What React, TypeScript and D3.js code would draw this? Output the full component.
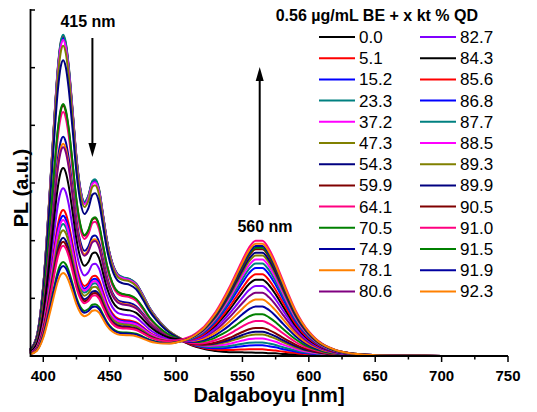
import * as d3 from "d3";

// wavelength grid (nm) and the two emission profiles
const wavelengths = [
  390, 395, 400, 405, 408, 411, 413, 415, 417, 419, 422, 425, 428, 431, 434, 437, 439, 442, 445, 448,
  452, 456, 460, 465, 470, 475, 480, 485, 490, 495, 500, 505, 510, 515, 520, 525, 530, 535, 540, 545,
  550, 555, 560, 565, 570, 575, 580, 585, 590, 595, 600, 605, 610, 615, 620, 630, 640, 650, 670, 700, 750,
];

// BE emission, normalised to its 415 nm peak
const beProfile = [
  0.02, 0.06, 0.22, 0.52, 0.72, 0.9, 0.975, 1.0, 0.975, 0.91, 0.77, 0.62, 0.52, 0.48, 0.5, 0.545, 0.55, 0.52, 0.44, 0.36,
  0.29, 0.255, 0.245, 0.24, 0.225, 0.19, 0.15, 0.12, 0.095, 0.075, 0.06, 0.047, 0.036, 0.028, 0.022, 0.017, 0.014, 0.011, 0.009, 0.008,
  0.007, 0.006, 0.005, 0.005, 0.004, 0.004, 0.003, 0.003, 0.003, 0.002, 0.002, 0.002, 0.002, 0.001, 0.001, 0.001, 0.001, 0.001, 0.0, 0.0, 0.0,
];

// QD emission, normalised to its 560 nm peak
const qdProfile = [
  0, 0, 0, 0, 0, 0, 0, 0, 0, 0, 0, 0, 0, 0, 0, 0, 0.001, 0.001, 0.002, 0.002,
  0.003, 0.004, 0.005, 0.007, 0.01, 0.014, 0.02, 0.028, 0.04, 0.055, 0.075, 0.1, 0.13, 0.17, 0.22, 0.29, 0.37, 0.47, 0.58, 0.7,
  0.82, 0.93, 0.99, 0.99, 0.92, 0.8, 0.66, 0.52, 0.39, 0.29, 0.21, 0.15, 0.105, 0.075, 0.052, 0.026, 0.013, 0.007, 0.003, 0.001, 0,
];

// samples: x kt % QD
const qdPercent = [
  "0.0", "5.1", "15.2", "23.3", "37.2", "47.3", "54.3", "59.9", "64.1", "70.5", "74.9", "78.1", "80.6",
  "82.7", "84.3", "85.6", "86.8", "87.7", "88.5", "89.3", "89.9", "90.5", "91.0", "91.5", "91.9", "92.3",
];

// peak intensities (a.u.) at 415 nm (BE) and 560 nm (QD)
const be415 = [
  5.53, 5.55, 5.51, 5.57, 5.48, 5.38, 5.13, 4.34, 4.23, 4.37, 3.8, 3.68, 3.62,
  2.91, 3.26, 2.53, 2.43, 2.29, 2.36, 2.18, 2.05, 1.98, 1.91, 1.63, 1.56, 1.44,
];
const qd560 = [
  0.03, 0.09, 0.16, 0.21, 0.28, 0.35, 0.4, 0.47, 0.59, 0.71, 0.85, 0.97, 1.09,
  1.21, 1.32, 1.42, 1.53, 1.61, 1.68, 1.75, 1.8, 1.86, 2.01, 1.89, 1.92, 1.96,
];

const xTicks = [400, 450, 500, 550, 600, 650, 700, 750];
const xMinorTicks = [425, 475, 525, 575, 625, 675, 725];
const yTicks = [0, 1, 2, 3, 4, 5, 6];

const palette = [
  "#000000", "#ff0000", "#0000ff", "#008080", "#ff00ff", "#808000", "#000080", "#800000", "#ff0080",
  "#008000", "#0000a0", "#ff8000", "#800080", "#8000ff", "#000000", "#ff0000", "#0000ff", "#008080",
  "#ff00ff", "#808000", "#000080", "#800000", "#ff0080", "#008000", "#0000a0", "#ff8000",
];

const W = 537;
const H = 412;
const font = "'Liberation Sans', Arial, sans-serif";

export default function App() {
  const x = d3.scaleLinear().domain([390, 750]).range([30, 508]);
  const y = d3.scaleLinear().domain([0, 6]).range([356, 10]);

  const line = d3
    .line<[number, number]>()
    .x((d) => x(d[0]))
    .y((d) => y(d[1]))
    .curve(d3.curveMonotoneX);

  const curves = qdPercent.map((_, i) =>
    wavelengths.map((w, k) => [w, be415[i] * beProfile[k] + qd560[i] * qdProfile[k]] as [number, number])
  );

  const legendX = [319, 420];
  const legendY0 = 37;
  const legendStep = 21.2;
  const half = Math.ceil(qdPercent.length / 2);

  // arrows
  const downX = x(437);
  const upX = x(563);

  return (
    <svg width={W} height={H} style={{ position: "absolute", left: 0, top: 0, background: "#fff" }}>
      <g>
        {curves.map((c, i) => (
          <path key={i} d={line(c) || ""} fill="none" stroke={palette[i]} strokeWidth={2} strokeLinejoin="round" />
        ))}
      </g>

      {/* axes */}
      <line x1={30} x2={508} y1={356} y2={356} stroke="#000" strokeWidth={1.8} />
      <line x1={30.5} x2={30.5} y1={9} y2={357} stroke="#000" strokeWidth={1.8} />
      {xTicks.map((t) => (
        <g key={t}>
          <line x1={x(t)} x2={x(t)} y1={356} y2={362} stroke="#000" strokeWidth={1.5} />
          <text x={x(t)} y={381} textAnchor="middle" fontFamily={font} fontWeight="bold" fontSize={15}>
            {t}
          </text>
        </g>
      ))}
      {xMinorTicks.map((t) => (
        <line key={t} x1={x(t)} x2={x(t)} y1={356} y2={359.5} stroke="#000" strokeWidth={1.5} />
      ))}
      {yTicks.map((t) => (
        <line key={t} x1={30} x2={35} y1={y(t)} y2={y(t)} stroke="#000" strokeWidth={1.5} />
      ))}

      <text x={269} y={402} textAnchor="middle" fontFamily={font} fontWeight="bold" fontSize={20}>
        Dalgaboyu [nm]
      </text>
      <text
        transform={`translate(28,188) rotate(-90)`}
        textAnchor="middle"
        fontFamily={font}
        fontWeight="bold"
        fontSize={20}
      >
        PL (a.u.)
      </text>

      {/* annotations */}
      <text x={88} y={27} textAnchor="middle" fontFamily={font} fontWeight="bold" fontSize={16}>
        415 nm
      </text>
      <line x1={downX} x2={downX} y1={38} y2={146} stroke="#000" strokeWidth={2} />
      <path d={`M${downX - 4},${143} L${downX + 4},${143} L${downX},${157} Z`} fill="#000" />

      <text x={265} y={232} textAnchor="middle" fontFamily={font} fontWeight="bold" fontSize={16}>
        560 nm
      </text>
      <line x1={upX} x2={upX} y1={205} y2={78} stroke="#000" strokeWidth={2} />
      <path d={`M${upX - 4},${81} L${upX + 4},${81} L${upX},${67} Z`} fill="#000" />

      {/* legend */}
      <text x={478} y={21} textAnchor="end" fontFamily={font} fontWeight="bold" fontSize={16}>
        0.56 µg/mL BE + x kt % QD
      </text>
      {qdPercent.map((p, i) => {
        const col = i < half ? 0 : 1;
        const row = i % half;
        const ly = legendY0 + row * legendStep;
        const lx = legendX[col];
        return (
          <g key={p}>
            <line x1={lx} x2={lx + 36} y1={ly} y2={ly} stroke={palette[i]} strokeWidth={2} />
            <text x={lx + 40} y={ly + 6} fontFamily={font} fontSize={17}>
              {p}
            </text>
          </g>
        );
      })}
    </svg>
  );
}
